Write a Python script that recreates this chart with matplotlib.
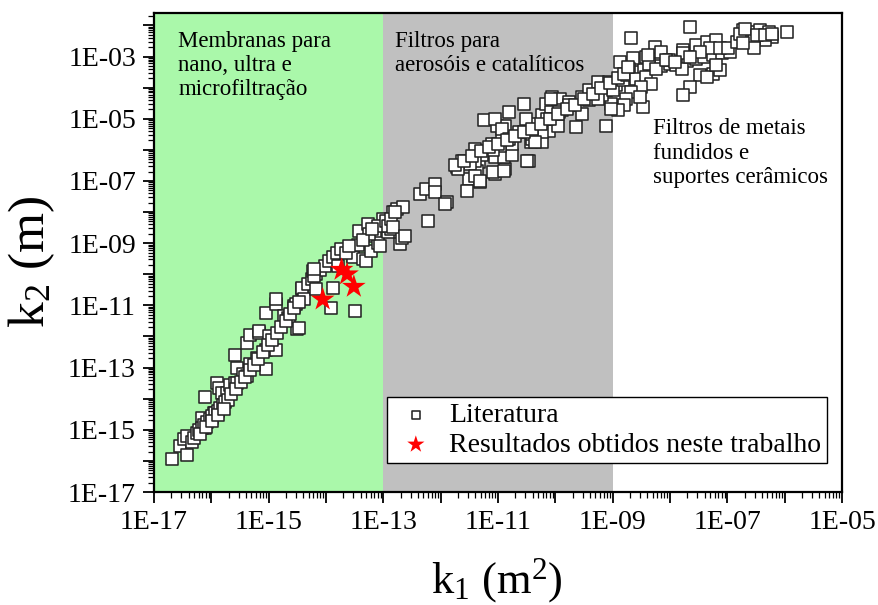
import numpy as np
import matplotlib
matplotlib.use("Agg")
import matplotlib.pyplot as plt
from matplotlib.ticker import LogLocator, FuncFormatter, NullFormatter

plt.rcParams['font.family'] = ['Liberation Serif', 'DejaVu Serif']
plt.rcParams['mathtext.fontset'] = 'custom'
plt.rcParams['mathtext.rm'] = 'Liberation Serif'
plt.rcParams['mathtext.it'] = 'Liberation Serif:italic'
plt.rcParams['mathtext.default'] = 'rm'

# Literature data: log10 of k1 (m^2) and k2 (m)
lit_log_k1 = [
    -16.69, -16.54, -16.48, -16.43, -16.43, -16.34, -16.30, -16.16, -16.11, -16.11,
    -15.99, -15.96, -15.90, -15.87, -15.81, -15.72, -15.67, -15.58, -15.58, -15.55,
    -15.55, -15.45, -15.37, -15.37, -15.32, -15.32, -15.20, -15.17, -15.17, -15.05,
    -15.05, -15.05, -15.00, -14.88, -14.88, -14.88, -14.73, -14.67, -14.64, -14.56,
    -14.53, -14.50, -14.47, -14.41, -14.41, -14.38,
    -16.25, -16.21, -16.17, -16.12, -16.07, -16.03, -15.98, -15.94, -15.89, -15.85,
    -15.80, -15.76, -15.71, -16.20, -16.10, -15.99, -15.88, -15.78,
    -15.65, -15.57, -15.49, -15.42, -15.33, -15.26, -15.18, -15.10, -15.02, -14.95,
    -14.86, -14.78, -14.70, -14.62, -14.55, -14.47,
    -14.32, -14.25, -14.18, -14.10, -14.02, -13.95, -13.88, -13.80,
    -14.23, -14.21, -14.18, -14.21, -13.91, -13.88, -13.79, -13.74, -13.53, -13.53,
    -13.49, -13.42, -13.36, -13.30, -13.27, -13.21, -13.15, -13.09, -13.05, -13.01,
    -12.92, -12.86, -12.83, -12.77, -12.71, -12.68, -12.65, -12.36, -12.22, -13.65,
    -13.45, -13.25, -13.10, -12.95, -13.60, -13.35, -13.20,
    -12.92, -12.86, -12.83, -12.80, -12.63, -12.25, -12.10, -12.10, -11.89, -11.92,
    -11.72, -11.63, -11.54, -11.40, -11.28, -11.34, -11.37, -11.51, -11.31, -11.54,
    -11.05, -10.87, -11.05, -10.90, -10.75, -11.11, -10.93, -10.75, -10.64, -10.46,
    -10.43, -10.37, -10.32, -11.25, -11.02, -10.87,
    -11.05, -10.93, -10.81, -10.96, -11.08, -11.28, -11.40, -11.49, -11.69, -11.40,
    -11.08, -10.90, -10.49, -10.29, -10.40, -10.23, -10.11, -11.31, -10.81, -10.55,
    -10.52, -10.23, -10.17, -10.08, -10.05, -9.91, -9.88, -9.96, -9.76, -9.64,
    -9.53, -9.41, -9.26, -9.23, -9.12, -9.06, -8.94, -9.12, -9.03, -9.41,
    -9.53, -9.76, -9.94, -10.08, -10.14, -10.23, -10.40, -10.35, -9.18, -9.26,
    -9.00, -8.82,
    -11.75, -11.60, -11.45, -11.30, -11.15, -11.00, -10.85, -10.70, -10.55, -10.40,
    -10.25, -10.10, -9.95, -9.80, -9.65, -9.50, -9.35, -9.20, -9.05, -8.90,
    -8.75, -8.60, -8.45, -8.30, -8.15, -8.00, -7.85, -7.70, -7.55, -7.40,
    -7.25, -7.10, -6.95,
    -8.68, -8.88, -8.65, -8.71, -8.80, -8.59, -8.42, -8.33, -8.50, -8.68,
    -8.77, -8.80, -8.47, -8.91, -9.03, -8.53, -8.27, -8.15, -8.42, -8.36,
    -8.24, -8.01, -7.89, -8.39, -8.07, -8.74, -7.65, -7.77, -7.77, -7.79,
    -7.48, -7.25, -7.13, -7.36, -7.65, -7.77, -7.92, -7.54, -7.36, -7.19,
    -7.30, -7.13, -6.98, -7.48, -7.65, -7.19,
    -6.72, -6.60, -6.43, -6.28, -6.22, -6.34, -6.54, -6.75, -6.84, -6.78,
    -6.69, -6.49, -6.34, -6.22, -6.54, -6.72, -5.96,
]
lit_log_k2 = [
    -15.95, -15.51, -15.30, -15.19, -15.81, -15.38, -15.25, -14.62, -13.93, -14.95,
    -14.62, -14.45, -13.49, -13.65, -13.82, -13.82, -13.55, -13.49, -12.58, -13.49,
    -13.01, -13.20, -13.28, -12.20, -12.90, -11.94, -12.69, -11.88, -11.83, -13.06,
    -12.42, -11.24, -11.99, -10.97, -10.81, -12.42, -11.35, -11.40, -11.45, -11.02,
    -10.97, -11.77, -11.72, -10.48, -10.43, -10.81,
    -15.11, -15.00, -14.93, -14.84, -14.74, -14.65, -14.55, -14.46, -14.38, -14.30,
    -14.21, -14.12, -14.03, -15.12, -14.92, -14.72, -14.52, -14.33,
    -13.85, -13.68, -13.47, -13.30, -13.08, -12.92, -12.72, -12.50, -12.28, -12.10,
    -11.88, -11.68, -11.50, -11.28, -11.10, -10.90,
    -10.30, -10.15, -10.00, -9.85, -9.72, -9.58, -9.45, -9.32,
    -9.89, -10.05, -10.48, -9.84, -11.07, -10.43, -9.73, -9.19, -9.41, -9.46,
    -11.18, -8.60, -9.52, -9.57, -8.39, -9.25, -8.76, -8.98, -9.10, -8.23,
    -8.65, -8.55, -8.01, -7.90, -9.03, -8.82, -7.85, -7.42, -8.28, -9.30,
    -9.05, -8.70, -8.45, -8.30, -9.10, -8.90, -8.55,
    -8.44, -8.23, -8.49, -8.01, -8.76, -7.26, -7.10, -7.36, -7.69, -7.74,
    -6.56, -6.35, -6.40, -5.97, -6.07, -6.40, -6.67, -6.94, -7.04, -7.31,
    -6.77, -6.61, -6.24, -6.24, -6.18, -5.81, -5.59, -5.81, -5.43, -6.35,
    -5.75, -5.43, -5.16, -5.05, -5.22, -5.22,
    -5.00, -5.32, -5.65, -5.86, -6.02, -6.18, -6.35, -6.45, -6.61, -6.83,
    -6.72, -6.67, -6.35, -5.43, -5.65, -5.75, -5.38, -6.99, -4.78, -4.52,
    -5.00, -4.89, -4.52, -4.78, -4.30, -4.35, -4.73, -5.22, -4.46, -5.27,
    -4.30, -4.09, -3.82, -4.25, -4.09, -3.82, -3.93, -5.22, -4.52, -4.41,
    -4.84, -4.57, -4.78, -4.35, -5.00, -5.43, -5.48, -5.75, -4.25, -4.35,
    -4.09, -3.76,
    -6.50, -6.35, -6.20, -6.05, -5.92, -5.80, -5.68, -5.56, -5.44, -5.32,
    -5.18, -5.02, -4.86, -4.70, -4.55, -4.38, -4.20, -4.02, -3.85, -3.68,
    -3.58, -3.50, -3.43, -3.37, -3.31, -3.25, -3.20, -3.14, -3.08, -3.02,
    -2.96, -2.90, -2.85,
    -2.40, -3.17, -3.06, -3.39, -3.55, -3.71, -3.66, -3.87, -3.98, -4.14,
    -4.35, -4.57, -4.62, -4.73, -4.68, -4.30, -2.69, -2.85, -3.01, -3.23,
    -3.39, -3.12, -3.28, -2.96, -3.12, -3.33, -2.04, -2.80, -2.90, -3.39,
    -3.60, -3.55, -3.44, -3.66, -3.98, -4.25, -3.17, -2.63, -2.53, -2.47,
    -2.74, -2.74, -2.74, -2.85, -3.01, -3.28,
    -2.15, -2.20, -2.15, -2.20, -2.36, -2.47, -2.42, -2.36, -2.53, -2.26,
    -2.10, -2.31, -2.31, -2.26, -2.74, -2.58, -2.20,
]

# Results of this work
work_k1 = [8.75e-15, 1.87e-14, 2.33e-14, 3.06e-14]
work_k2 = [1.55e-11, 1.40e-10, 1.00e-10, 3.98e-11]

region_labels = [
    "Membranas para\nnano, ultra e\nmicrofiltração",
    "Filtros para\naerosóis e catalíticos",
    "Filtros de metais\nfundidos e\nsuportes cerâmicos",
]
region_bounds = [1e-17, 1e-13, 1e-9]
region_colors = ["#aaf8aa", "#c0c0c0"]

lit_k1 = 10.0 ** np.array(lit_log_k1)
lit_k2 = 10.0 ** np.array(lit_log_k2)

fig = plt.figure(figsize=(8.79, 6.05), dpi=100)
ax = fig.add_axes([154 / 879, 1 - 492 / 605, 688 / 879, 479 / 605])

ax.set_xscale('log')
ax.set_yscale('log')
ax.set_xlim(1e-17, 1e-5)
ax.set_ylim(1e-17, 10 ** -1.6)

ax.axvspan(region_bounds[0], region_bounds[1], color=region_colors[0], zorder=0, lw=0)
ax.axvspan(region_bounds[1], region_bounds[2], color=region_colors[1], zorder=0, lw=0)

ax.scatter(lit_k1, lit_k2, marker='s', s=72, facecolors='white',
           edgecolors='#262626', linewidths=1.15, zorder=3, label='Literatura')
ax.scatter(work_k1, work_k2, marker='*', s=320, color='#ff0000',
           edgecolors='none', zorder=4, label='Resultados obtidos neste trabalho')

# region captions
ax.text(0.035, 0.963, region_labels[0], transform=ax.transAxes, fontsize=16.5,
        va='top', ha='left', linespacing=1.2)
ax.text(0.351, 0.963, region_labels[1], transform=ax.transAxes, fontsize=16.5,
        va='top', ha='left', linespacing=1.2)
ax.text(0.726, 0.780, region_labels[2], transform=ax.transAxes, fontsize=16.5,
        va='top', ha='left', linespacing=1.2)


def sci_label(v, pos):
    e = int(round(np.log10(v)))
    if e % 2 == 0:
        return ''
    return "1E-%02d" % abs(e)


for axis in (ax.xaxis, ax.yaxis):
    axis.set_major_locator(LogLocator(base=10, numticks=40))
    axis.set_major_formatter(FuncFormatter(sci_label))
    axis.set_minor_locator(LogLocator(base=10, subs=np.arange(2, 10), numticks=200))
    axis.set_minor_formatter(NullFormatter())

ax.tick_params(which='major', direction='out', length=8, width=1.3,
               labelsize=20, top=False, right=False)
ax.tick_params(which='minor', direction='out', length=4, width=0.9,
               top=False, right=False)
ax.tick_params(axis='x', which='major', pad=5)
ax.tick_params(axis='y', which='major', pad=5)
for sp in ax.spines.values():
    sp.set_linewidth(1.6)
    sp.set_color('black')

fig.text(497 / 879, 12 / 605, r'k$_1$ (m$^2$)', ha='center', va='baseline', fontsize=32)
fig.text(32 / 879, 1 - 262 / 605, r'k$_2$ (m)', ha='center', va='center',
         rotation=90, fontsize=37)

leg = ax.legend(loc='lower right', bbox_to_anchor=(0.978, 0.06), fontsize=20,
                frameon=True, fancybox=False, borderpad=0.2, labelspacing=0.15,
                handlelength=1.65, handletextpad=0.38, borderaxespad=0.0,
                markerscale=0.75)
leg.get_frame().set_edgecolor('black')
leg.get_frame().set_linewidth(1.0)
leg.get_frame().set_facecolor('white')
leg.get_frame().set_alpha(1.0)
leg.legend_handles[0].set_sizes([36])
leg.legend_handles[1].set_sizes([170])

fig.savefig('out.png', dpi=100)
